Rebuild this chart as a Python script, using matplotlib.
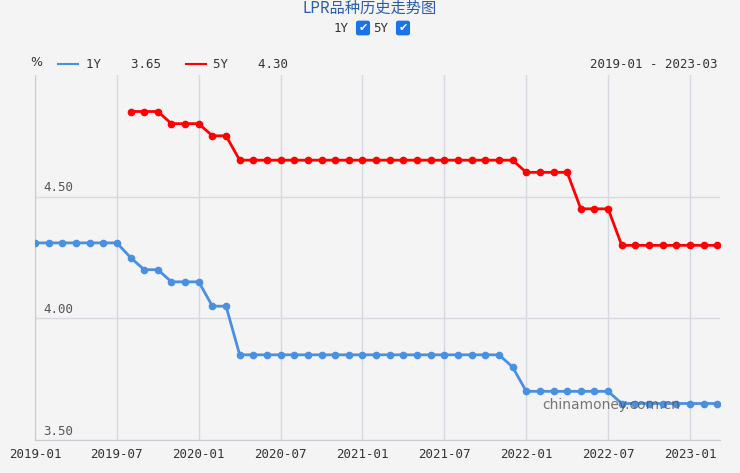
import matplotlib
matplotlib.use("Agg")
import matplotlib.pyplot as plt
from matplotlib.patches import FancyBboxPatch

months = [f"{y}-{m:02d}" for y in range(2019, 2024) for m in range(1, 13)][:51]
y1 = [4.31]*7 + [4.25, 4.20, 4.20, 4.15, 4.15, 4.15, 4.05, 4.05] + [3.85]*20 + [3.80] + [3.70]*7 + [3.65]*8
y5 = [None]*7 + [4.85, 4.85, 4.85, 4.80, 4.80, 4.80, 4.75, 4.75] + [4.65]*21 + [4.60]*4 + [4.45]*3 + [4.30]*8
xtick_labels = ["2019-01","2019-07","2020-01","2020-07","2021-01","2021-07","2022-01","2022-07","2023-01"]
yticks = [3.50, 4.00, 4.50]

bg = "#f4f4f4"
fig = plt.figure(figsize=(7.4, 4.73), dpi=100, facecolor=bg)
ax = fig.add_axes([35/740, 1-440/473, 685/740, 365/473], facecolor=bg)
xs = list(range(len(months)))
x5 = [x for x, v in zip(xs, y5) if v is not None]
v5 = [v for v in y5 if v is not None]
ax.plot(xs, y1, color="#4a90e2", lw=2, marker="o", ms=4.5, zorder=3)
ax.plot(x5, v5, color="#ff0000", lw=2, marker="o", ms=4.5, zorder=3)
ax.set_xlim(0, 50.2)
ax.set_ylim(3.50, 5.0)
tick_pos = [months.index(t) for t in xtick_labels]
ax.set_xticks(tick_pos)
ax.set_xticklabels(xtick_labels, fontsize=9, color="#333", family="DejaVu Sans Mono")
ax.set_yticks(yticks)
ax.set_yticklabels([])
for t in yticks:
    ax.text(0.6, t+0.01, f"{t:.2f}", fontsize=9, color="#555", family="DejaVu Sans Mono", va="bottom")
ax.grid(True, color="#d6d9e0", lw=1)
ax.tick_params(length=0, pad=6)
for s in ["top", "right"]:
    ax.spines[s].set_visible(False)
for s in ["left", "bottom"]:
    ax.spines[s].set_color("#c8cbd2")

cjk = ["Noto Sans CJK SC", "DejaVu Sans"]
fig.text(0.5, 1-8/473, "LPR品种历史走势图", ha="center", va="center", fontsize=11, color="#2a5caa", family=cjk)
fig.text(349/740, 1-29/473, "1Y", ha="right", va="center", fontsize=9, color="#333", family="DejaVu Sans Mono")
fig.text(388/740, 1-29/473, "5Y", ha="right", va="center", fontsize=9, color="#333", family="DejaVu Sans Mono")
for cx in (363, 403):
    fig.text(cx/740, 1-28/473, "✔", ha="center", va="center", fontsize=8, color="white",
             bbox=dict(boxstyle="round,pad=0.15", fc="#1a73e8", ec="#1a73e8"))
fig.text(30/740, 1-62/473, "%", fontsize=9, color="#333", va="center")
fig.add_artist(plt.Line2D([58/740, 78/740], [1-64/473]*2, color="#4a90e2", lw=1.5))
fig.text(86/740, 1-64/473, "1Y    3.65", fontsize=9, color="#333", va="center", family="DejaVu Sans Mono")
fig.add_artist(plt.Line2D([186/740, 206/740], [1-64/473]*2, color="#ff0000", lw=1.5))
fig.text(213/740, 1-64/473, "5Y    4.30", fontsize=9, color="#333", va="center", family="DejaVu Sans Mono")
fig.text(718/740, 1-64/473, "2019-01 - 2023-03", ha="right", fontsize=9, color="#333", va="center", family="DejaVu Sans Mono")
fig.text(542/740, 1-405/473, "chinamoney.com.cn", fontsize=10, color="#555", va="center", alpha=0.8)
fig.savefig("out.png", dpi=100, facecolor=bg)
